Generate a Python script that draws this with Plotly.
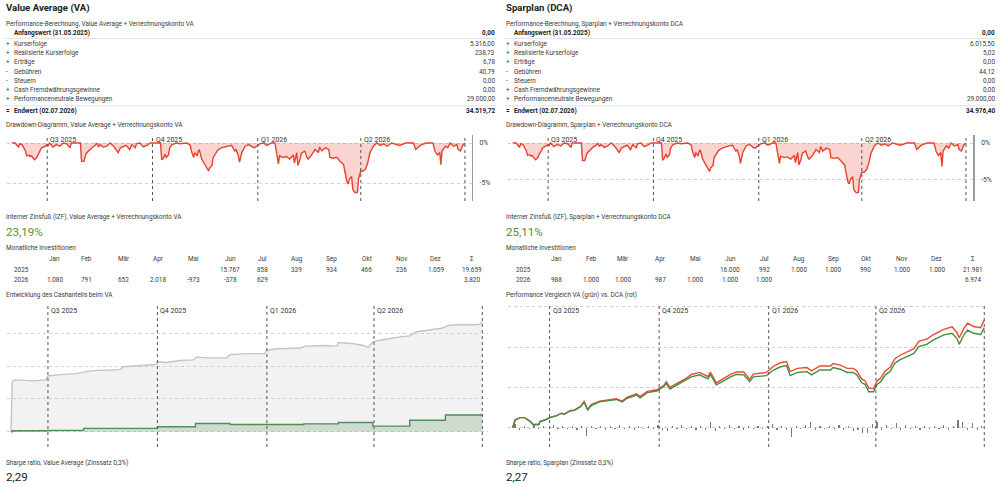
import plotly.graph_objects as go
import pandas as pd

W, H = 1000, 487
FONT = "Roboto, Inter, sans-serif"
TXT = "#3a3a3a"
SMALL = 6.4

# ---------------- data ----------------
START = pd.Timestamp("2025-05-31")
quarter_dates = ["2025-07-01", "2025-10-01", "2026-01-01", "2026-04-01", "2026-07-01"]
quarter_labels = ["Q3 2025", "Q4 2025", "Q1 2026", "Q2 2026", ""]

perf_labels = ["Kurserfolge", "Realisierte Kurserfolge", "Erträge", "Gebühren", "Steuern",
               "Cash Fremdwährungsgewinne", "Performanceneutrale Bewegungen"]
perf_signs = ["+", "+", "+", "-", "-", "+", "+"]
va_perf = [5316.00, 238.73, 6.78, 40.79, 0.00, 0.00, 29000.00]
dca_perf = [6015.50, 5.02, 0.00, 44.12, 0.00, 0.00, 29000.00]
va_start_end = [0.00, 34519.72]
dca_start_end = [0.00, 34976.40]

va_izf = "23,19%"
dca_izf = "25,11%"
va_sharpe = "2,29"
dca_sharpe = "2,27"

months = ["Jan", "Feb", "Mär", "Apr", "Mai", "Jun", "Jul", "Aug", "Sep", "Okt", "Nov", "Dez", "Σ"]
years = ["2025", "2026"]
va_2025 = [None, None, None, None, None, 15767, 858, 339, 934, 466, 236, 1059, 19659]
va_2026 = [1080, 791, 652, 2018, -973, -378, 629, None, None, None, None, None, 3820]
dca_2025 = [None, None, None, None, None, 16000, 992, 1000, 1000, 990, 1000, 1000, 21981]
dca_2026 = [988, 1000, 1000, 987, 1000, 1000, 1000, None, None, None, None, None, 6974]

# drawdown (days since 31.05.2025, percent)
dd_days = [0, 3, 4, 6, 7, 9, 12, 13, 15, 16, 17, 19, 20, 22, 23, 25, 26, 28, 29, 31,
           32, 33, 36, 39, 42, 45, 48, 51, 52, 60, 61, 63, 65, 67, 70, 73, 74, 76, 77, 80, 83, 86, 89,
           92, 93, 95, 98, 100, 103, 105, 108, 109, 112, 115, 118, 121, 123,
           125, 130, 131, 132, 134, 135, 137, 138, 140, 144, 147, 153, 156, 157, 159, 160, 162, 163,
           164, 166, 168, 170, 172, 173, 175, 176, 179, 180, 183, 186, 189, 192, 195, 196, 198, 199,
           201, 204, 207, 210, 212, 214,
           217, 220, 223, 227, 230, 233, 234, 237, 240, 243, 246, 247, 249, 250, 252, 253, 256, 258,
           259, 262, 265, 268, 269, 271, 274, 277, 278, 281, 284, 287, 290, 291, 293, 294, 295, 297,
           298, 300, 302, 303, 305,
           307, 309, 311, 313, 316, 319, 322, 325, 328, 332, 339, 344, 351, 353, 357, 362, 368, 370,
           372, 374, 375, 376, 379, 381, 383, 386, 389, 390, 392, 394, 396]
dd_va = [0, 0, -0.2, -0.5, -0.1, -0.2, -1.0, -1.6, -1.5, -1.7, -1.6, -2.0, -2.1, -1.8, -1.5, -1.0, -0.6, -0.5, -0.4, -0.2,
         -0.3, 0, -0.5, -0.2, -0.4, 0, -0.1, -0.6, 0, 0, -2.3, -2.3, -1.3, -1.0, -0.6, -0.3, 0, -0.5, -0.2, -0.5, -0.4, 0, -0.4,
         -1.0, -1.2, -0.6, -0.4, -0.3, -0.8, -0.2, -0.6, -0.1, 0, -0.5, -0.3, 0, 0,
         0, 0, -2.1, -2.0, -1.4, -1.8, -1.5, -0.6, -0.2, 0, -0.1, 0, -0.3, -1.0, -1.8, -1.2, -1.6, -1.0,
         -0.9, -2.0, -2.5, -3.0, -3.5, -3.1, -2.8, -1.8, -1.2, -0.9, -0.6, -0.5, -0.4, -0.3, -1.0, -0.8, -1.6, -2.4,
         -1.2, -0.4, -0.2, -0.5, -0.6, -0.4,
         -0.1, 0, -0.3, 0, 0, -2.6, -1.6, -1.8, -1.7, -2.0, -1.5, -2.5, -1.2, -2.8, -2.0, -1.3, -1.0, -1.8,
         -2.0, -1.5, -0.8, -1.2, -0.5, -1.0, -0.6, -0.8, -1.8, -1.9, -1.8, -2.3, -2.7, -3.5, -4.9, -5.1, -4.5, -4.2,
         -5.8, -6.2, -6.2, -4.5, -3.5,
         -3.5, -3.3, -2.5, -1.2, -0.4, 0, -0.3, -0.1, -0.4, 0, -0.3, 0, 0, -0.8, -0.3, 0, 0, -1.1,
         -1.5, -1.2, -2.7, -1.0, -0.4, -0.6, 0, -0.4, -0.2, -0.8, -1.0, -0.3, 0]
dd_dca = [0, 0, -0.2, -0.6, -0.1, -0.2, -1.1, -1.7, -1.6, -1.8, -1.7, -2.2, -2.3, -2.0, -1.6, -1.1, -0.7, -0.5, -0.4, -0.2,
          -0.3, 0, -0.5, -0.2, -0.4, 0, -0.1, -0.6, 0, 0, -2.4, -2.4, -1.4, -1.1, -0.6, -0.3, 0, -0.5, -0.2, -0.6, -0.4, 0, -0.4,
          -1.1, -1.3, -0.7, -0.4, -0.3, -0.9, -0.2, -0.7, -0.1, 0, -0.5, -0.3, 0, 0,
          0, 0, -2.3, -2.2, -1.5, -2.0, -1.6, -0.7, -0.2, 0, -0.1, 0, -0.3, -1.1, -2.0, -1.3, -1.8, -1.1,
          -1.0, -2.2, -2.8, -3.3, -3.9, -3.4, -3.1, -2.0, -1.3, -1.0, -0.7, -0.5, -0.4, -0.3, -1.1, -0.9, -1.8, -2.8,
          -1.3, -0.4, -0.2, -0.6, -0.7, -0.4,
          -0.1, 0, -0.3, 0, 0, -2.8, -1.8, -2.0, -1.9, -2.2, -1.7, -2.7, -1.3, -3.0, -2.2, -1.4, -1.1, -2.0,
          -2.2, -1.7, -0.9, -1.3, -0.5, -1.1, -0.7, -0.9, -2.0, -2.1, -2.0, -2.5, -3.0, -3.9, -5.4, -5.6, -5.0, -4.6,
          -6.4, -6.8, -6.8, -5.0, -4.0,
          -4.0, -3.7, -2.8, -1.4, -0.4, 0, -0.3, -0.1, -0.4, 0, -0.3, 0, 0, -0.9, -0.3, 0, 0, -1.2,
          -1.7, -1.3, -3.2, -1.1, -0.4, -0.7, 0, -0.4, -0.2, -0.9, -1.1, -0.3, 0]

# cash development of VA (EUR)
total_days = [0, 1, 3, 10, 19, 29, 31, 41, 55, 64, 72, 86, 92, 94, 103, 114, 122, 123, 131, 142, 153, 156,
              164, 181, 184, 198, 213, 215, 223, 243, 247, 265, 274, 275, 288, 296, 300, 304, 310, 327,
              335, 340, 355, 363, 367, 377, 391, 394, 396]
total_value = [0, 15200, 15800, 15600, 15500, 15800, 17000, 17400, 17700, 18400, 18700, 18800, 19000, 19800,
               20100, 20400, 20500, 21300, 21100, 21700, 21900, 22800, 22500, 22500, 23500, 23800, 23800,
               24800, 25300, 25500, 26100, 26300, 26100, 27200, 26800, 26300, 25700, 27400, 27900, 28900,
               29200, 30400, 31200, 31600, 32400, 32700, 32600, 32800, 33600]
cash_days = [0, 1, 31, 61, 123, 155, 184, 246, 275, 304, 335, 365, 396]
cash_value = [0, 300, 400, 1000, 1500, 2500, 2200, 2400, 2800, 1700, 3500, 5100, 5300]

# performance comparison (percent)
perf_days = [0, 2, 6, 10, 12, 15, 17, 22, 23, 27, 31, 37, 41, 43, 48, 52, 57, 60, 63, 66, 73, 79, 87, 92, 96,
             104, 107, 113, 121, 127, 129, 132, 138, 146, 150, 157, 164, 166, 171, 176, 183, 188, 194, 199,
             202, 213, 219, 225, 230, 233, 239, 247, 251, 258, 267, 269, 275, 281, 286, 289, 293, 296, 299,
             303, 306, 309, 313, 317, 321, 325, 331, 337, 341, 348, 353, 362, 369, 373, 375, 379, 382, 387,
             393, 396]
perf_va = [0, 1.9, 2.5, 2.5, 2.1, 1.5, 0.8, 0.8, 1.5, 1.9, 2.5, 3.0, 3.6, 3.3, 4.1, 4.3, 5.2, 6.3, 4.4, 5.5,
           6.4, 6.6, 7.0, 6.4, 7.3, 8.1, 7.4, 8.7, 9.1, 10.2, 11.0, 9.6, 10.6, 11.8, 12.6, 13.1, 12.1, 13.2,
           10.6, 11.4, 12.6, 13.2, 13.1, 11.4, 12.6, 12.9, 14.3, 15.1, 15.4, 12.9, 13.7, 13.9, 13.1, 14.3,
           14.3, 14.9, 14.5, 13.7, 13.7, 13.1, 11.2, 10.7, 8.9, 8.9, 10.7, 11.4, 13.1, 14.0, 16.0, 16.8,
           17.6, 18.4, 20.1, 20.7, 21.7, 23.0, 23.4, 22.1, 20.7, 23.1, 24.2, 23.4, 23.1, 24.8]
perf_dca = [0, 1.9, 2.5, 2.5, 2.1, 1.5, 0.8, 0.8, 1.5, 1.9, 2.5, 3.0, 3.6, 3.3, 4.2, 4.4, 5.3, 6.5, 4.5, 5.7,
            6.6, 6.8, 7.2, 6.6, 7.5, 8.4, 7.7, 9.0, 9.4, 10.5, 11.4, 10.0, 11.0, 12.3, 13.2, 13.7, 12.7, 13.8,
            11.1, 12.0, 13.2, 13.8, 13.8, 12.0, 13.3, 13.7, 15.2, 16.1, 16.4, 13.9, 14.7, 14.9, 14.1, 15.3,
            15.3, 15.9, 15.5, 14.7, 14.7, 14.1, 12.1, 11.6, 9.8, 9.7, 11.6, 12.3, 14.1, 15.0, 17.1, 17.9,
            18.8, 19.6, 21.4, 22.0, 23.0, 24.4, 25.0, 23.6, 22.3, 24.7, 25.9, 25.1, 24.8, 26.7]
diff_values = [0.8, -0.5, 0.3, -0.4, 0.6, -0.3, 0.4, -0.2, 0.7, -0.4, 0.3, -0.3, 0.5, -0.6, 0.4, -2.0, 0.5,
               -0.3, 0.4, -0.5, 0.3, -0.4, 0.6, -0.3, 0.5, -0.6, 0.4, -0.3, 0.5, -0.4, 0.6, -0.5, -0.9, 0.5,
               -0.4, 0.6, -0.3, 0.4, -0.5, 0.3, -0.6, 1.5, -0.8, 0.5, -0.4, 0.6, -0.3, 0.4, -0.5, 0.3, -0.4,
               0.5, -0.3, 0.4, 0.8, -0.5, 0.4, -0.6, -2.2, 0.5, -0.4, 0.6, 1.3, -0.5, 0.4, -0.3, 0.5, -0.4,
               0.6, -0.5, 0.4, -0.8, -0.6, -1.2, -1.4, 0.8, 1.5, -0.5, 0.6, -0.4, 1.2, -0.5, 0.6, -0.4, 0.5,
               -0.6, 0.4, -0.3, 0.5, -0.4, 0.6, -0.5, 0.4, 1.8, 1.5, -0.6, 1.2, -0.5, 0.4]
diff_days = list(range(2, 2 + 4 * len(diff_values), 4))

quarter_days = [(pd.Timestamp(d) - START).days for d in quarter_dates]


# ---------------- helpers ----------------
def px(x):
    return x / W


def py(y):
    return 1 - y / H


def de_num(v, dec=2):
    s = f"{v:,.{dec}f}"
    return s.replace(",", "X").replace(".", ",").replace("X", ".")


annotations = []
shapes = []


def text(x, y, s, size=SMALL, color=TXT, bold=False, anchor="left", xref="paper"):
    if bold:
        s = f"<b>{s}</b>"
    annotations.append(dict(x=px(x) if xref == "paper" else x, y=py(y), xref=xref, yref="paper",
                            text=s, showarrow=False, xanchor=anchor, yanchor="middle",
                            borderpad=0, font=dict(size=size, color=color, family=FONT)))


def hline(x0, x1, y, color="#e2e2e2", width=1):
    shapes.append(dict(type="line", xref="paper", yref="paper", x0=px(x0), x1=px(x1),
                       y0=py(y), y1=py(y), line=dict(color=color, width=width)))


# ---------------- panels (text) ----------------
panels = [
    dict(ox=0, title="Value Average (VA)", name="Value Average + Verrechnungskonto VA",
         perf=va_perf, se=va_start_end, izf=va_izf, sharpe=va_sharpe,
         sharpe_name="Value Average", rows=[va_2025, va_2026],
         cols=[54.7, 86, 123.7, 158.3, 193.3, 230, 262.3, 296.7, 331.7, 366.7, 401, 435.7, 472.3], yx=12.7),
    dict(ox=500, title="Sparplan (DCA)", name="Sparplan + Verrechnungskonto DCA",
         perf=dca_perf, se=dca_start_end, izf=dca_izf, sharpe=dca_sharpe,
         sharpe_name="Sparplan", rows=[dca_2025, dca_2026],
         cols=[56.7, 91, 123.3, 160.7, 195, 230, 264, 299, 333.3, 365.7, 401.7, 436.7, 472.7], yx=15),
]

row_y = [44.3, 53.3, 62.3, 71.7, 81, 90, 99.3]
for p in panels:
    ox = p["ox"]
    text(ox + 5, 7.5, p["title"], size=9.6, color="#222", bold=True)
    text(ox + 5, 24.2, "Performance-Berechnung, " + p["name"])
    text(ox + 13, 32.8, "Anfangswert (31.05.2025)", bold=True, color="#222")
    text(ox + 496, 32.8, de_num(p["se"][0]), anchor="right", bold=True, color="#222")
    hline(ox + 5, ox + 496, 38.6)
    for sgn, lab, val, yy in zip(perf_signs, perf_labels, p["perf"], row_y):
        text(ox + 5, yy, sgn)
        text(ox + 13, yy, lab)
        text(ox + 496, yy, de_num(val), anchor="right")
    hline(ox + 5, ox + 496, 105.8)
    text(ox + 5, 110.8, "=", bold=True, color="#222")
    text(ox + 13, 110.8, "Endwert (02.07.2026)", bold=True, color="#222")
    text(ox + 496, 110.8, de_num(p["se"][1]), anchor="right", bold=True, color="#222")

    text(ox + 5, 124.8, "Drawdown-Diagramm, " + p["name"])
    text(ox + 5, 216.6, "Interner Zinsfuß (IZF), " + p["name"])
    text(ox + 4.5, 231.8, p["izf"], size=11.6, color="#5a8e2e")
    text(ox + 5, 247.6, "Monatliche Investitionen")
    for m, cx in zip(months, p["cols"]):
        text(ox + cx, 259.4, m, anchor="center")
    for yr, row, yy in zip(years, p["rows"], [270.0, 279.8]):
        text(ox + p["yx"], yy, yr)
        for v, cx in zip(row, p["cols"]):
            if v is not None:
                text(ox + cx, yy, de_num(v, 0), anchor="center")
    text(ox + 5, 463.3, f"Sharpe ratio, {p['sharpe_name']} (Zinssatz 0,3%)")
    text(ox + 4.5, 477.4, p["sharpe"], size=11.6, color="#1a1a1a")

text(5, 295.2, "Entwicklung des Cashanteils beim VA")
text(505, 295.2, "Performance Vergleich VA (grün) vs. DCA (rot)")

# ---------------- charts ----------------
fig = go.Figure()

DD_RED = "#e8412c"
DD_FILL = "rgba(236,95,80,0.27)"
fig.add_trace(go.Scatter(x=dd_days, y=dd_va, mode="lines", line=dict(color=DD_RED, width=1.4),
                         fill="tozeroy", fillcolor=DD_FILL, xaxis="x", yaxis="y", hoverinfo="skip"))
fig.add_trace(go.Scatter(x=dd_days, y=dd_dca, mode="lines", line=dict(color=DD_RED, width=1.4),
                         fill="tozeroy", fillcolor=DD_FILL, xaxis="x2", yaxis="y2", hoverinfo="skip"))

fig.add_trace(go.Scatter(x=total_days, y=total_value, mode="lines", line=dict(color="#c4c4c4", width=1.4),
                         fill="tozeroy", fillcolor="rgba(205,205,205,0.25)", xaxis="x3", yaxis="y3",
                         hoverinfo="skip"))
fig.add_trace(go.Scatter(x=cash_days, y=cash_value, mode="lines", line=dict(color="#4f8f58", width=1.4, shape="hv"),
                         fill="tozeroy", fillcolor="rgba(79,143,88,0.22)", xaxis="x3", yaxis="y3",
                         hoverinfo="skip"))

fig.add_trace(go.Bar(x=diff_days, y=diff_values, width=1.0, marker=dict(color="#7a7a7a", line=dict(width=0)),
                     xaxis="x4", yaxis="y4", hoverinfo="skip"))
fig.add_trace(go.Scatter(x=perf_days, y=perf_dca, mode="lines", line=dict(color="#ee4a2f", width=1.4),
                         xaxis="x4", yaxis="y4", hoverinfo="skip"))
fig.add_trace(go.Scatter(x=perf_days, y=perf_va, mode="lines", line=dict(color="#3f8f45", width=1.4),
                         xaxis="x4", yaxis="y4", hoverinfo="skip"))


def xax(x0, x1, rng, anchor):
    return dict(domain=[px(x0), px(x1)], range=rng, anchor=anchor, showgrid=False, zeroline=False,
                showticklabels=False, showline=False, ticks="", fixedrange=True)


def yax_dd(rng, anchor):
    return dict(domain=[py(201), py(135)], range=rng, anchor=anchor, side="right", showline=True,
                linecolor="#9a9a9a", linewidth=1.5, tickvals=[0, -5], ticktext=["0%", "-5%"],
                tickfont=dict(size=SMALL + 0.4, color=TXT, family=FONT), ticks="", ticklabelstandoff=5,
                showgrid=True, gridcolor="#cfcfcf", griddash="dot", gridwidth=1, zeroline=False,
                fixedrange=True)


def yax_plain(rng, anchor, dtick):
    return dict(domain=[py(447), py(305)], range=rng, anchor=anchor, showline=False, showticklabels=False,
                ticks="", showgrid=True, gridcolor="#cfcfcf", griddash="dot", gridwidth=1, dtick=dtick,
                tick0=0, zeroline=False, fixedrange=True)


charts = [("x", "y", 140.0), ("x2", "y2", 140.0), ("x3", "y3", 311.0), ("x4", "y4", 311.0)]
for xa, ya, ly in charts:
    for qd, ql in zip(quarter_days, quarter_labels):
        shapes.append(dict(type="line", xref=xa, yref=f"{ya} domain", x0=qd, x1=qd, y0=0, y1=1,
                           line=dict(color="#555", width=1, dash="dot"), layer="above"))
        if ql:
            annotations.append(dict(x=qd, y=py(ly), xref=xa, yref="paper", text=ql, showarrow=False,
                                    xanchor="left", yanchor="middle", xshift=2, borderpad=0,
                                    font=dict(size=SMALL + 0.6, color="#333", family=FONT)))

fig.update_layout(
    width=W, height=H, autosize=False,
    margin=dict(l=0, r=0, t=0, b=0, pad=0),
    paper_bgcolor="white", plot_bgcolor="white",
    showlegend=False, bargap=0,
    font=dict(family=FONT, color=TXT, size=SMALL),
    xaxis=xax(6.7, 471.7, [-4.4, 401.9], "y"),
    yaxis=yax_dd([-7.25, 1.0], "x"),
    xaxis2=xax(508.3, 973.3, [-3.8, 402.4], "y2"),
    yaxis2=yax_dd([-7.95, 1.1], "x2"),
    xaxis3=xax(7, 488, [-3.4, 400.8], "y3"),
    yaxis3=yax_plain([-4665, 38630], "x3", 10000),
    xaxis4=xax(508, 987, [-3.9, 398.3], "y4"),
    yaxis4=yax_plain([-4.79, 30.42], "x4", 10),
    annotations=annotations,
    shapes=shapes,
)

fig.write_html("out.html", config={"displayModeBar": False, "staticPlot": True})
